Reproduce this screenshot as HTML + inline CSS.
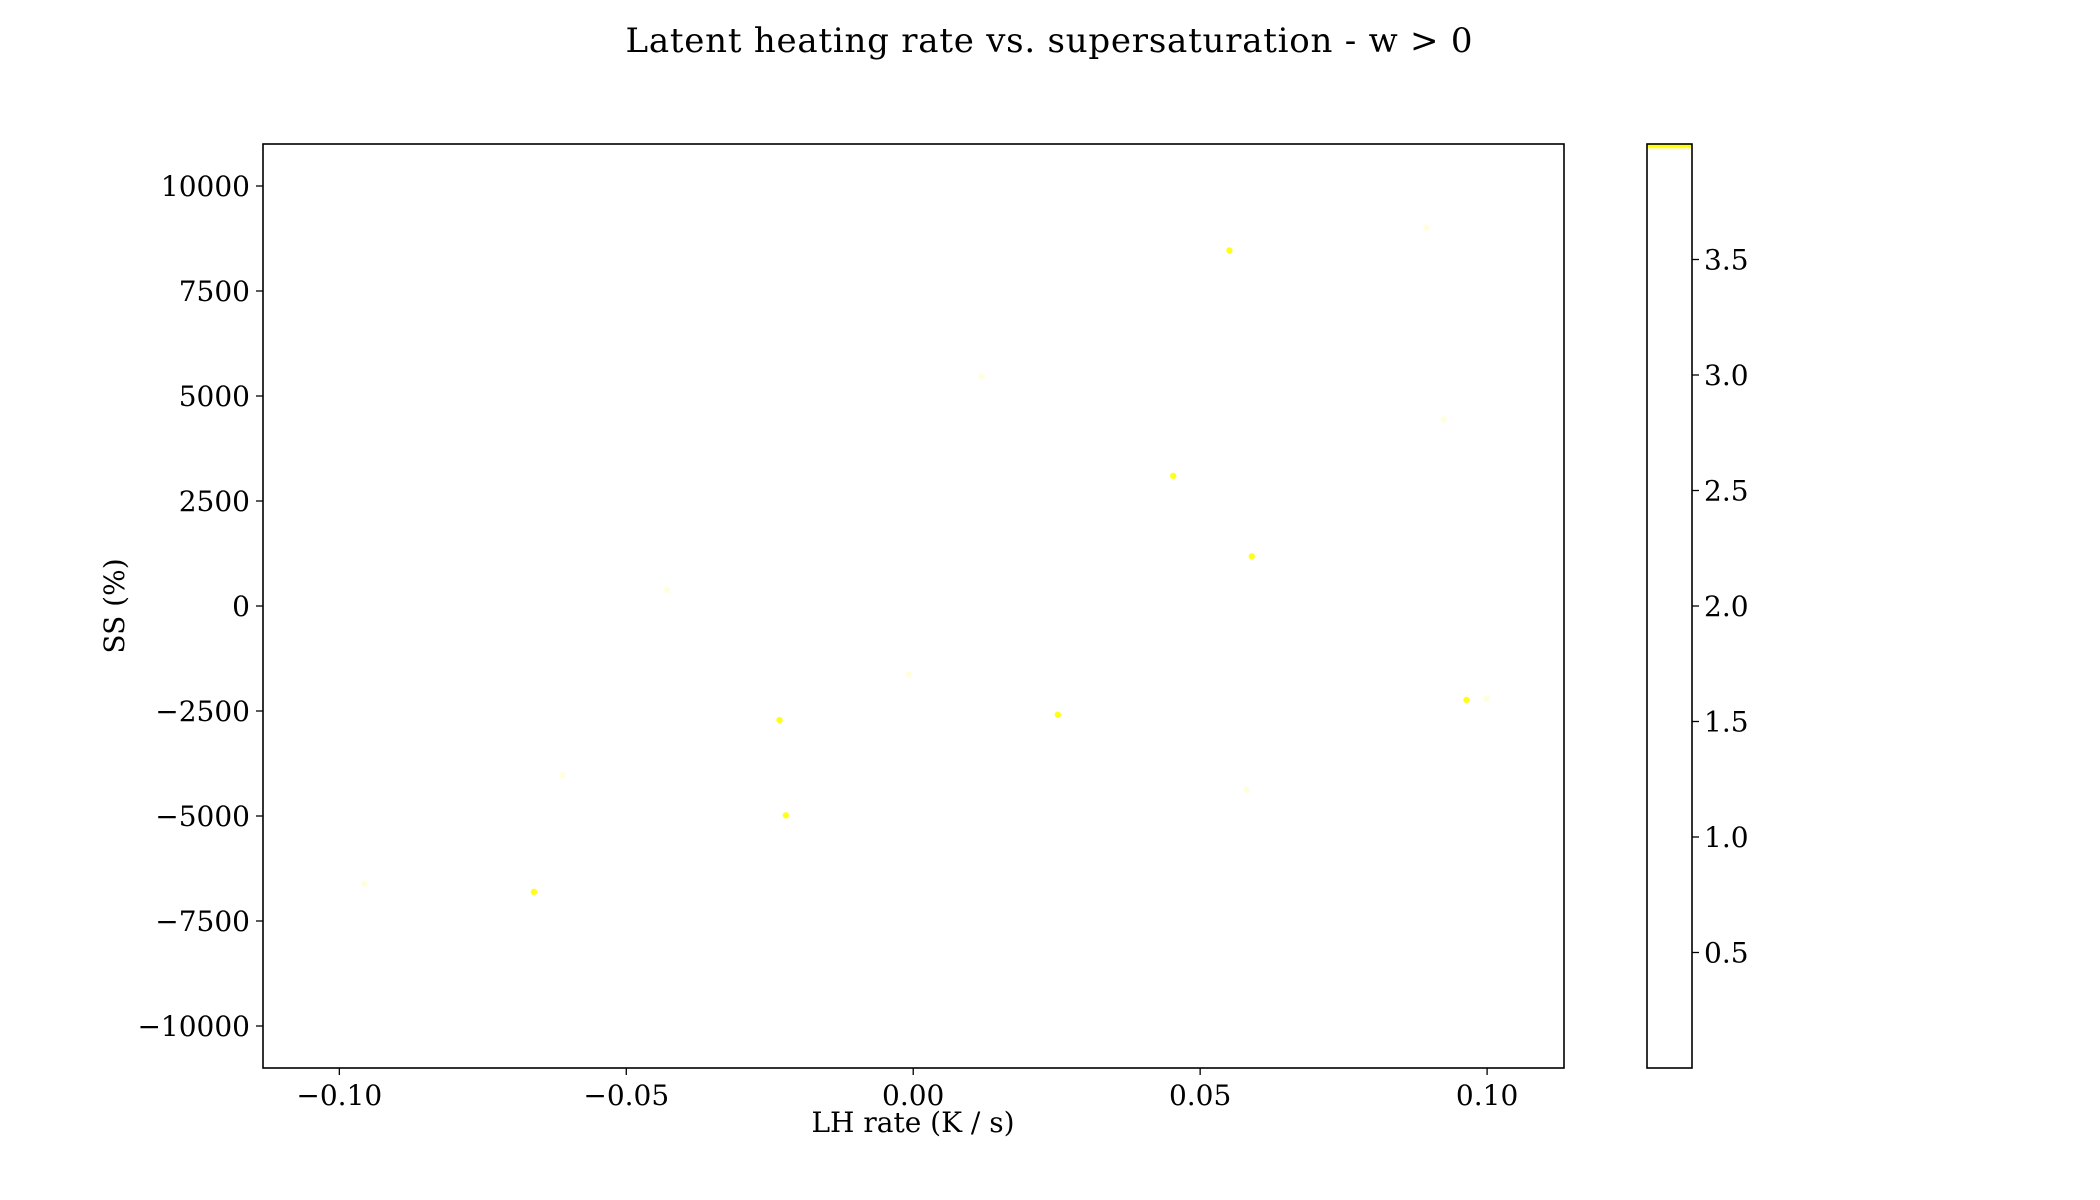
<!DOCTYPE html>
<html><head><meta charset="utf-8"><style>
html,body{margin:0;padding:0;background:#fff;}
svg{display:block;font-family:"DejaVu Serif","Liberation Serif",serif;}
</style></head><body>
<svg id="chart" width="2100" height="1200" viewBox="0 0 2100 1200">
<rect width="2100" height="1200" fill="#fff"/>
<text x="1049" y="52" font-size="34" text-anchor="middle" textLength="847">Latent heating rate vs. supersaturation -  w &gt; 0</text>
<g id="plotArea"></g>
<g id="cbarArea"></g>
<text x="913" y="1132" font-size="28" text-anchor="middle">LH rate (K / s)</text>
<text transform="translate(124,606) rotate(-90)" font-size="28" text-anchor="middle">SS (%)</text>
</svg>
<script>
const xVals=[0.0551,0.0453,0.0590,0.0252,-0.0233,-0.0222,-0.0661,0.0964,0.0894,0.0119,0.0924,-0.0429,-0.0007,-0.0611,0.0581,0.0999,-0.0957];
const yVals=[8466,3099,1182,-2588,-2716,-4984,-6805,-2236,9010,5463,4441,383,-1629,-4026,-4377,-2204,-6613];
const cVals=[3.97,3.97,3.97,3.97,3.97,3.97,3.97,3.97,0.3,0.3,0.3,0.3,0.3,0.3,0.3,0.3,0.3];
const xTicks=[-0.10,-0.05,0.00,0.05,0.10];
const xTickLabels=["\u22120.10","\u22120.05","0.00","0.05","0.10"];
const yTicks=[-10000,-7500,-5000,-2500,0,2500,5000,7500,10000];
const yTickLabels=["\u221210000","\u22127500","\u22125000","\u22122500","0","2500","5000","7500","10000"];
const cTicks=[0.5,1.0,1.5,2.0,2.5,3.0,3.5];
const cTickLabels=["0.5","1.0","1.5","2.0","2.5","3.0","3.5"];

const NS="http://www.w3.org/2000/svg";
const L=263,R=1564,T=144,B=1068;
const X0=-0.1133,X1=0.1134,Y0=-11000,Y1=11000;
const sx=v=>L+(v-X0)/(X1-X0)*(R-L);
const sy=v=>B-(v-Y0)/(Y1-Y0)*(B-T);
const CL=1647,CR=1692,C0=0,C1=4.0;
const cy=v=>B-(v-C0)/(C1-C0)*(B-T);
function mk(tag,attrs,parent){const e=document.createElementNS(NS,tag);for(const k in attrs)e.setAttribute(k,attrs[k]);parent.appendChild(e);return e;}
function color(c){const t=Math.max(0,Math.min(1,(c-3.9)/0.08));const b=Math.round(222-222*t);return `rgb(255,255,${b})`;}
const plotG=document.getElementById('plotArea');
for(let i=0;i<xVals.length;i++){
  const c=mk('circle',{cx:sx(xVals[i]),cy:sy(yVals[i]),r:3.2,fill:color(cVals[i])},plotG);
  
  
}
const frame=mk('rect',{x:L,y:T,width:R-L,height:B-T,fill:'none',stroke:'#000','stroke-width':1.6},plotG);


xTicks.forEach((v,i)=>{
  const x=sx(v);
  const tk=mk('line',{x1:x,x2:x,y1:B,y2:B+7,stroke:'#000','stroke-width':1.3},plotG);
  
  
  const t=mk('text',{x:x,y:B+37,'font-size':28,'text-anchor':'middle'},plotG);
  t.textContent=xTickLabels[i];
  
  
});
yTicks.forEach((v,i)=>{
  const y=sy(v);
  const tk=mk('line',{x1:L-7,x2:L,y1:y,y2:y,stroke:'#000','stroke-width':1.3},plotG);
  
  
  const t=mk('text',{x:L-13,y:y+10,'font-size':28,'text-anchor':'end'},plotG);
  t.textContent=yTickLabels[i];
  
  
});
const cbG=document.getElementById('cbarArea');
const cbBg=mk('rect',{x:CL,y:T,width:CR-CL,height:B-T,fill:'#fff'},cbG);


const cbTop=mk('rect',{x:CL,y:cy(C1),width:CR-CL,height:cy(3.985)-cy(C1),fill:'#ffff00'},cbG);


const cbTop2=mk('rect',{x:CL,y:cy(3.985),width:CR-CL,height:cy(3.975)-cy(3.985),fill:'#ffffb0'},cbG);


const cf=mk('rect',{x:CL,y:T,width:CR-CL,height:B-T,fill:'none',stroke:'#000','stroke-width':1.6},cbG);


cTicks.forEach((v,i)=>{
  const y=cy(v);
  const tk=mk('line',{x1:CR,x2:CR+7,y1:y,y2:y,stroke:'#000','stroke-width':1.3},cbG);
  
  
  const t=mk('text',{x:CR+12,y:y+10,'font-size':28},cbG);
  t.textContent=cTickLabels[i];
  
  
});
</script>
</body></html>
